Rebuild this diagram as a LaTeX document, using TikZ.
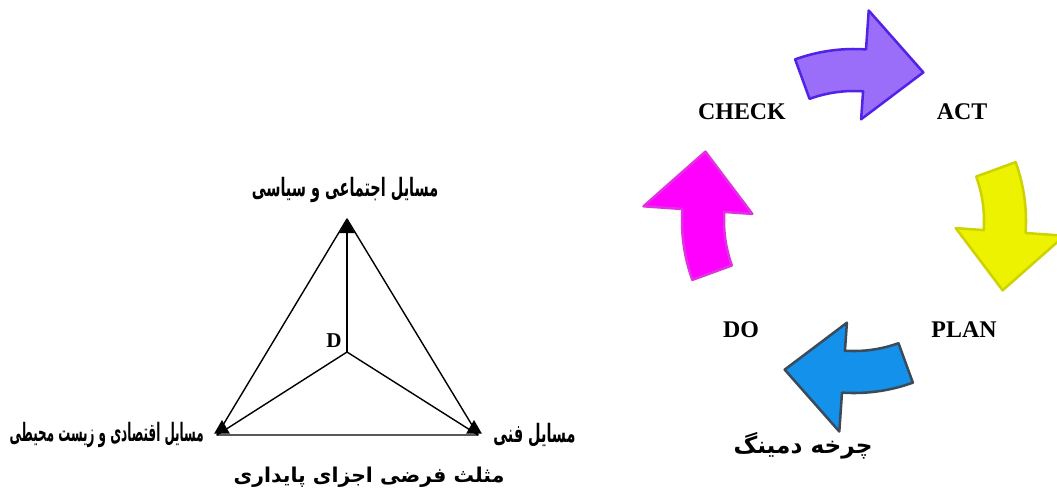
\documentclass[tikz,border=0pt]{standalone}
\usepackage{fontspec}
\usepackage{graphicx}
\setmainfont{Liberation Serif}
\newfontfamily\farsifont[Script=Arabic, FakeStretch=0.57]{DejaVu Sans}
\newfontfamily\farsicap[Script=Arabic]{DejaVu Sans}
\TeXXeTstate=1
\usetikzlibrary{shapes.geometric}

\definecolor{actfill}{RGB}{155,110,250}
\definecolor{actedge}{RGB}{80,35,230}
\definecolor{planfill}{RGB}{236,242,0}
\definecolor{planedge}{RGB}{205,210,0}
\definecolor{dofill}{RGB}{20,145,235}
\definecolor{doedge}{RGB}{60,75,90}
\definecolor{checkfill}{RGB}{255,0,255}
\definecolor{checkedge}{RGB}{225,50,225}

\tikzset{
  vertexmark/.style={regular polygon, regular polygon sides=3, fill=black, inner sep=0pt, minimum size=0.45cm},
  faxis/.style={font=\farsifont\bfseries\fontsize{18}{20}\selectfont, inner sep=0pt},
  fcap/.style={font=\farsicap\bfseries\fontsize{14.5}{17}\selectfont, inner sep=0pt},
  phase/.style={font=\bfseries\fontsize{17}{19}\selectfont, inner sep=0pt},
  dlabel/.style={font=\bfseries\fontsize{15}{17}\selectfont, inner sep=0pt},
  cyclearrow/.pic={
    \path[pic actions] (110:172) arc[start angle=110, end angle=86, radius=172]
      -- (86:211) -- (65:164) -- (86:102) -- (86:130)
      arc[start angle=86, end angle=110, radius=130] -- cycle;
  }
}

\begin{document}
\begin{tikzpicture}[x=0.025cm, y=0.025cm, line join=round]
\useasboundingbox (0,0) rectangle (1057,-495);

\coordinate (top) at (347,-219);
\coordinate (lft) at (217,-435);
\coordinate (rgt) at (478,-435);
\coordinate (D) at (347,-352);
\draw[line width=1pt] (top) -- (lft) -- (rgt) -- cycle;
\foreach \v in {top,lft,rgt} {
 \draw[line width=1pt] (D) -- (\v);
}
\node[vertexmark, anchor=corner 1] (mtop) at (top) {};
\node[vertexmark] (mlft) at (222,-429) {};
\node[vertexmark] (mrgt) at (474,-429) {};
\node[dlabel, anchor=east] (dl) at (342,-341) {D};

\node[faxis] (soc) at (345,-190) {\beginR مسایل اجتماعی و سیاسی\endR};
\node[faxis, anchor=east] (eco) at (204,-435) {\resizebox{4.85cm}{\height}{\beginR مسایل اقتصادی و زیست محیطی\endR}};
\node[faxis, anchor=west] (tec) at (493,-435) {\beginR مسایل فنی\endR};
\node[fcap] (tri) at (369,-477) {\beginR مثلث فرضی اجزای پایداری\endR};

\coordinate (ctr) at (854,-221);
\pic[draw=actedge, fill=actfill, line width=1.8pt] at (ctr) {cyclearrow};
\pic[draw=planedge, fill=planfill, line width=1.8pt, rotate=-90] at (ctr) {cyclearrow};
\pic[draw=doedge, fill=dofill, line width=1.8pt, rotate=180] at (ctr) {cyclearrow};
\pic[draw=checkedge, fill=checkfill, line width=1.8pt, rotate=90] at (ctr) {cyclearrow};

\node[phase] (check) at (742,-112) {CHECK};
\node[phase] (act) at (962,-112) {ACT};
\node[phase] (do) at (741,-330) {DO};
\node[phase] (plan) at (964,-330) {PLAN};
\node[fcap, font=\farsicap\bfseries\fontsize{16.5}{19}\selectfont] (deming) at (803,-446) {\beginR چرخه دمینگ\endR};
\end{tikzpicture}
\end{document}
